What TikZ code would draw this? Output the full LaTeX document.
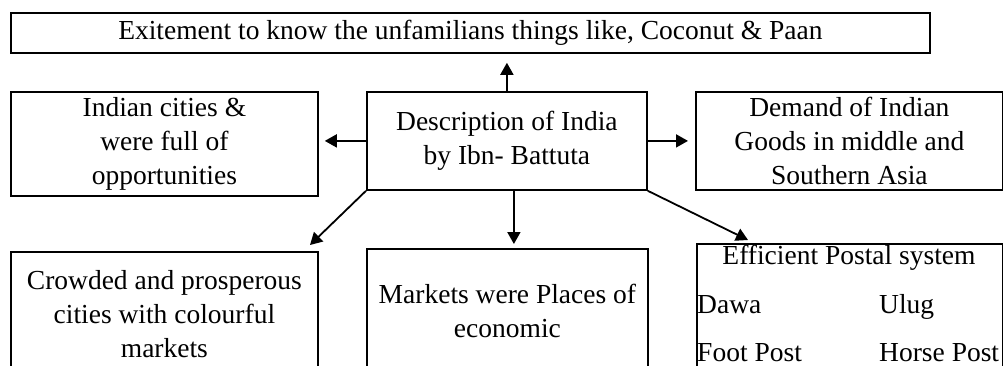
\documentclass[tikz,border=0pt]{standalone}
\usepackage{fontspec}
\setmainfont{Liberation Serif}
\usetikzlibrary{arrows.meta}
\begin{document}
\begin{tikzpicture}[x=1pt,y=-1pt,
  box/.style={draw, line width=1.8pt, inner sep=0pt, align=center, anchor=north west,
    font=\fontsize{27.5}{34}\selectfont},
  lbl/.style={inner sep=0pt, font=\fontsize{27.5}{34}\selectfont},
  arr/.style={line width=1.8pt, -{Triangle[length=12pt,width=13pt]}}]
\useasboundingbox (0,0) rectangle (1003,365);
\clip (0,0) rectangle (1003,365);
\node[box, minimum width=919pt, minimum height=40pt] (top) at (10,12)
  {Exitement to know the unfamilians things like, Coconut \& Paan};
\node[box, minimum width=307pt, minimum height=104pt] (left) at (10,91)
  {Indian cities \&\\were full of\\opportunities};
\node[box, minimum width=280pt, minimum height=98pt] (desc) at (366,91)
  {Description of India\\by Ibn- Battuta};
\node[box, minimum width=307pt, minimum height=98pt] (right) at (695,91)
  {Demand of Indian\\Goods in middle and\\Southern Asia};
\node[box, minimum width=307pt, minimum height=124pt] (bl) at (10,251)
  {Crowded and prosperous\\cities with colourful\\markets};
\node[box, minimum width=281pt, minimum height=124pt] (markets) at (366,248)
  {Markets were Places of\\economic};
\node[box, minimum width=306pt, minimum height=130pt] (postal) at (696,243) {};
\node[lbl, anchor=base] (ps) at (849,264) {Efficient Postal system};
\node[lbl, anchor=base west] (dawa) at (697,313) {Dawa};
\node[lbl, anchor=base west] (ulug) at (879,313) {Ulug};
\node[lbl, anchor=base west] (foot) at (697,361) {Foot Post};
\node[lbl, anchor=base west] (horse) at (879,361) {Horse Post};
\coordinate (blt) at (310,245);
\coordinate (pst) at (748,240);
\draw[arr, shorten >=9pt] (desc.north) -- (desc.north |- top.south);
\draw[arr, shorten >=6pt] (desc.west) -- (desc.west -| left.east);
\draw[arr, shorten >=7pt] (desc.east) -- (desc.east -| right.west);
\draw[arr, shorten >=4pt] ([xshift=7pt]desc.south) -- ([xshift=7pt]desc.south |- markets.north);
\draw[arr] (desc.south west) -- (blt);
\draw[arr] (desc.south east) -- (pst);
\end{tikzpicture}
\end{document}
